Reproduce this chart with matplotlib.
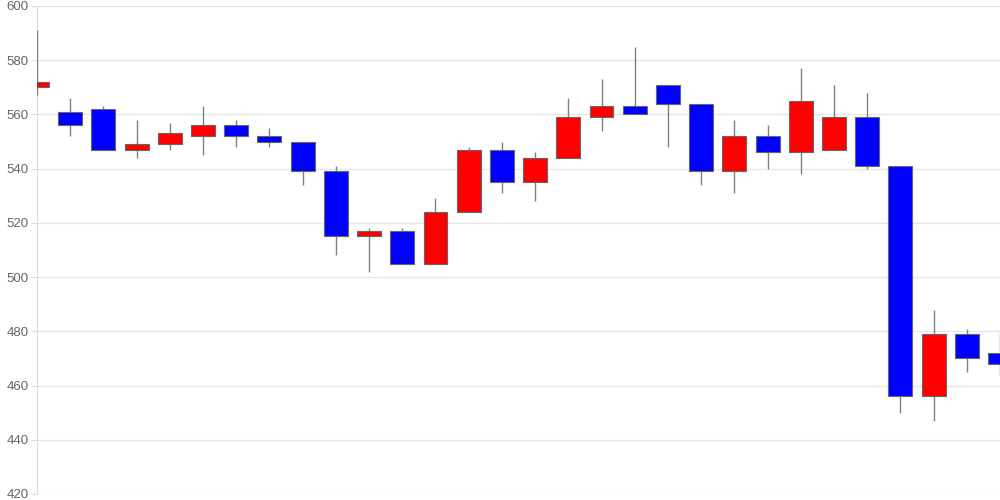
import matplotlib
matplotlib.use('Agg')
import matplotlib.pyplot as plt
import numpy as np

# дневные свечи: открытие, максимум, минимум, закрытие
opens = [570, 561, 562, 547, 549, 552, 556, 552, 550, 539,
         515, 517, 505, 524, 547, 535, 544, 559, 563, 571,
         564, 539, 552, 546, 547, 559, 541, 456, 479, 472]
highs = [591, 566, 563, 558, 557, 563, 558, 555, 550, 541,
         518, 518, 529, 548, 550, 546, 566, 573, 585, 571,
         564, 558, 556, 577, 571, 568, 541, 488, 481, 479]
lows = [567, 552, 547, 544, 547, 545, 548, 548, 534, 508,
        502, 505, 505, 524, 531, 528, 544, 554, 560, 548,
        534, 531, 540, 538, 547, 540, 450, 447, 465, 464]
closes = [572, 556, 547, 549, 553, 556, 552, 550, 539, 515,
          517, 505, 524, 547, 535, 544, 559, 563, 560, 564,
          539, 552, 546, 565, 559, 541, 456, 479, 470, 468]
y_ticks = [420, 440, 460, 480, 500, 520, 540, 560, 580, 600]

plt.rcParams['font.family'] = ['Liberation Sans', 'DejaVu Sans']

x = np.arange(len(opens))
o = np.array(opens)
c = np.array(closes)
colors = ['#ff0000' if cl >= op else '#0000ff' for op, cl in zip(o, c)]

fig = plt.figure(figsize=(10, 5), dpi=100)
ax = fig.add_axes([0.037, 0.012, 0.963, 0.976])

# тени свечей (поверх оси, чтобы первая была видна)
ax.vlines(x, lows, highs, color='#808080', linewidth=1, zorder=2.6)
# тела свечей
bottoms = np.minimum(o, c)
heights = np.abs(c - o)
ax.bar(x, heights, bottom=bottoms, width=0.72, color=colors,
       edgecolor='#666666', linewidth=0.8, zorder=3)

ax.set_xlim(0, len(opens) - 1)
ax.set_ylim(420, 600)
ax.set_yticks(y_ticks)
ax.set_xticks([])
ax.grid(axis='y', color='#e6e6e6', linewidth=1, zorder=0)

for side in ['top', 'right', 'bottom']:
    ax.spines[side].set_visible(False)
ax.spines['left'].set_color('#dddddd')
ax.tick_params(axis='y', length=4, color='#dddddd', labelcolor='#666666',
               labelsize=9.5, pad=2)

fig.savefig('out.png', dpi=100)
